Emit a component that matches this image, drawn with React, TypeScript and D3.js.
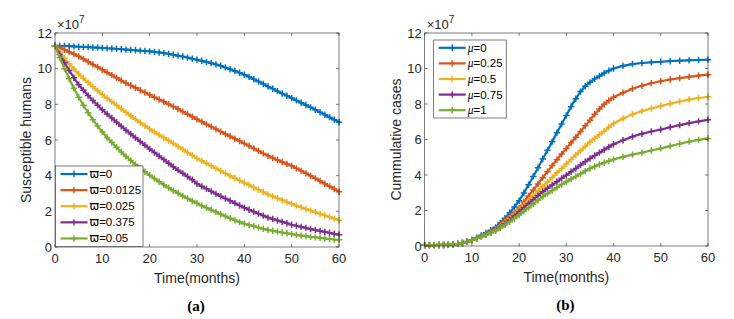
import React from 'react';
import * as d3 from 'd3';

// time grids (months)
const leftMonths = d3.range(0, 61, 1);
const rightMonths = d3.range(0, 41, 1).concat(d3.range(42, 61, 2));

const colors = ['#0072BD', '#D95319', '#EDB120', '#7E2F8E', '#77AC30'];

// (a) susceptible humans, x10^7
const omegaLabels = ['0', '0.0125', '0.025', '0.375', '0.05'];
const susOmega0 = [11.29,11.28,11.27,11.26,11.25,11.23,11.22,11.21,11.19,11.18,11.16,11.14,11.13,11.11,11.09,11.07,11.05,11.03,11.01,10.99,10.97,10.94,10.91,10.87,10.83,10.78,10.73,10.68,10.62,10.56,10.5,10.44,10.38,10.31,10.24,10.16,10.07,9.97,9.87,9.77,9.66,9.54,9.41,9.28,9.14,9.0,8.87,8.74,8.61,8.48,8.35,8.22,8.09,7.96,7.83,7.70,7.56,7.42,7.28,7.14,7.0];
const susOmega1 = [11.29,11.18,11.06,10.94,10.82,10.69,10.54,10.39,10.24,10.09,9.94,9.79,9.64,9.49,9.34,9.19,9.06,8.93,8.79,8.66,8.53,8.40,8.27,8.14,8.01,7.88,7.74,7.59,7.45,7.30,7.16,7.02,6.88,6.75,6.61,6.47,6.34,6.21,6.07,5.94,5.81,5.67,5.53,5.39,5.25,5.11,4.99,4.88,4.77,4.66,4.55,4.41,4.27,4.13,3.99,3.85,3.70,3.55,3.40,3.25,3.10];
const susOmega2 = [11.29,10.93,10.59,10.27,9.98,9.70,9.46,9.22,8.99,8.77,8.55,8.35,8.15,7.95,7.75,7.55,7.36,7.17,6.98,6.80,6.62,6.45,6.29,6.13,5.97,5.81,5.64,5.47,5.30,5.14,4.97,4.83,4.69,4.55,4.41,4.27,4.13,3.99,3.86,3.73,3.60,3.47,3.34,3.21,3.08,2.95,2.84,2.73,2.63,2.52,2.42,2.32,2.23,2.13,2.04,1.95,1.86,1.77,1.68,1.59,1.50];
const susOmega3 = [11.29,10.80,10.34,9.90,9.49,9.10,8.79,8.49,8.21,7.95,7.70,7.46,7.23,7.00,6.77,6.55,6.34,6.13,5.92,5.71,5.50,5.30,5.10,4.90,4.70,4.50,4.31,4.13,3.95,3.77,3.55,3.40,3.26,3.12,2.98,2.85,2.72,2.59,2.46,2.33,2.20,2.09,1.98,1.87,1.76,1.65,1.57,1.49,1.41,1.33,1.25,1.19,1.13,1.07,1.01,0.95,0.90,0.85,0.80,0.74,0.69];
const susOmega4 = [11.29,10.62,10.00,9.43,8.90,8.40,7.95,7.53,7.14,6.78,6.45,6.14,5.86,5.59,5.33,5.08,4.85,4.63,4.42,4.22,4.03,3.84,3.66,3.49,3.32,3.16,3.01,2.86,2.72,2.58,2.45,2.32,2.20,2.08,1.97,1.84,1.72,1.61,1.50,1.40,1.31,1.23,1.16,1.09,1.02,0.96,0.91,0.86,0.81,0.77,0.72,0.68,0.64,0.61,0.57,0.54,0.51,0.48,0.45,0.42,0.40];

// (b) cumulative cases, x10^7
const muLabels = ['0', '0.25', '0.5', '0.75', '1'];
const cumMu0 = [0.05,0.05,0.05,0.06,0.06,0.07,0.09,0.12,0.17,0.25,0.35,0.47,0.60,0.74,0.89,1.05,1.30,1.57,1.87,2.20,2.55,2.99,3.45,3.92,4.41,4.90,5.39,5.88,6.38,6.87,7.35,7.85,8.30,8.70,9.00,9.22,9.42,9.58,9.74,9.88,10.0,10.15,10.25,10.31,10.35,10.38,10.41,10.44,10.46,10.48,10.5];
const cumMu1 = [0.05,0.05,0.05,0.06,0.06,0.07,0.09,0.12,0.17,0.24,0.33,0.44,0.56,0.69,0.82,0.95,1.17,1.42,1.68,1.91,2.15,2.48,2.82,3.16,3.50,3.85,4.19,4.53,4.86,5.18,5.50,5.82,6.13,6.45,6.77,7.09,7.42,7.72,7.98,8.20,8.38,8.64,8.86,9.03,9.17,9.28,9.38,9.46,9.53,9.60,9.65];
const cumMu2 = [0.05,0.05,0.05,0.06,0.06,0.07,0.09,0.12,0.17,0.24,0.33,0.43,0.54,0.66,0.78,0.90,1.10,1.32,1.55,1.80,2.05,2.31,2.57,2.83,3.09,3.35,3.61,3.86,4.12,4.37,4.62,4.87,5.12,5.37,5.62,5.86,6.06,6.27,6.47,6.69,6.90,7.18,7.42,7.60,7.75,7.89,8.02,8.14,8.25,8.34,8.41];
const cumMu3 = [0.05,0.05,0.05,0.06,0.06,0.07,0.09,0.12,0.17,0.24,0.33,0.43,0.54,0.65,0.76,0.88,1.05,1.25,1.47,1.70,1.93,2.16,2.39,2.61,2.84,3.06,3.25,3.44,3.62,3.81,3.99,4.18,4.37,4.56,4.75,4.93,5.10,5.26,5.42,5.58,5.73,5.96,6.16,6.32,6.45,6.56,6.69,6.81,6.92,7.02,7.11];
const cumMu4 = [0.05,0.05,0.05,0.06,0.06,0.07,0.09,0.12,0.17,0.24,0.33,0.43,0.53,0.63,0.74,0.86,1.02,1.19,1.37,1.55,1.74,1.95,2.16,2.37,2.58,2.78,2.95,3.12,3.29,3.46,3.62,3.77,3.92,4.07,4.22,4.37,4.48,4.59,4.69,4.79,4.88,5.02,5.15,5.26,5.38,5.50,5.63,5.76,5.88,5.98,6.06];

const xTicks = [0, 10, 20, 30, 40, 50, 60];
const yTicks = [0, 2, 4, 6, 8, 10, 12];

const AX = '#262626';
const FONT = 'Liberation Sans, Arial, Helvetica, sans-serif';

type Series = { label: string; values: number[] };

function Panel(props: {
  left: number; right: number; top: number; bottom: number;
  times: number[]; series: Series[]; yLabel: string; tag: string;
  symbol: string; italicSymbol: boolean;
  legend: { x: number; y: number; w: number; h: number };
}) {
  const { left, right, top, bottom, times, series, yLabel, tag, symbol, italicSymbol, legend } = props;
  const x = d3.scaleLinear().domain([0, 60]).range([left, right]);
  const y = d3.scaleLinear().domain([0, 12]).range([bottom, top]);
  const line = d3.line<number>().x((_, i) => x(times[i])).y(v => y(v));
  const tl = 3;
  const ms = 3.2;
  const cross = (cx: number, cy: number, c: string, k: string) => (
    <path key={k} d={`M${cx - ms},${cy}H${cx + ms}M${cx},${cy - ms}V${cy + ms}`} stroke={c} strokeWidth={1.5} />
  );
  const rowH = legend.h / series.length;
  return (
    <g>
      <rect x={left} y={top} width={right - left} height={bottom - top} fill="white" />
      {series.map((s, si) => (
        <g key={si}>
          <path d={line(s.values) || ''} fill="none" stroke={colors[si]} strokeWidth={2.2} />
          {s.values.map((v, i) => cross(x(times[i]), y(v), colors[si], 'm' + i))}
        </g>
      ))}
      <rect x={left} y={top} width={right - left} height={bottom - top} fill="none" stroke={AX} strokeWidth={0.6} />
      {xTicks.map(t => (
        <g key={'x' + t}>
          <line x1={x(t)} x2={x(t)} y1={bottom} y2={bottom - tl} stroke={AX} strokeWidth={0.6} />
          <line x1={x(t)} x2={x(t)} y1={top} y2={top + tl} stroke={AX} strokeWidth={0.6} />
          <text x={x(t)} y={bottom + 16} textAnchor="middle" fontSize={13} fill={AX} fontFamily={FONT}>{t}</text>
        </g>
      ))}
      {yTicks.map(t => (
        <g key={'y' + t}>
          <line x1={left} x2={left + tl} y1={y(t)} y2={y(t)} stroke={AX} strokeWidth={0.6} />
          <line x1={right} x2={right - tl} y1={y(t)} y2={y(t)} stroke={AX} strokeWidth={0.6} />
          <text x={left - 3} y={y(t) + 4.5} textAnchor="end" fontSize={13} fill={AX} fontFamily={FONT}>{t}</text>
        </g>
      ))}
      <text x={left + 2} y={top - 4} fontSize={13} fill={AX} fontFamily={FONT}>
        ×10<tspan dy={-6} fontSize={10}>7</tspan>
      </text>
      <text x={(left + right) / 2} y={bottom + 36} textAnchor="middle" fontSize={14} fill={AX} fontFamily={FONT}>Time(months)</text>
      <text transform={`translate(${left - 24},${(top + bottom) / 2}) rotate(-90)`} textAnchor="middle" fontSize={14} fill={AX} fontFamily={FONT}>{yLabel}</text>
      <text x={(left + right) / 2 - 1} y={bottom + 64} textAnchor="middle" fontSize={15} fontWeight="bold" fill="#000" fontFamily="Liberation Serif, Times New Roman, serif">{tag}</text>
      <rect x={legend.x} y={legend.y} width={legend.w} height={legend.h} fill="white" stroke={AX} strokeWidth={0.6} />
      {series.map((s, si) => {
        const cy = legend.y + rowH * (si + 0.5);
        const lx1 = legend.x + 5, lx2 = legend.x + 32;
        return (
          <g key={'l' + si}>
            <line x1={lx1} x2={lx2} y1={cy} y2={cy} stroke={colors[si]} strokeWidth={2.2} />
            {cross((lx1 + lx2) / 2, cy, colors[si], 'lm')}
            <text x={lx2 + 2} y={cy + 4} fontSize={11.5} fill="#000" fontFamily={FONT}>
              <tspan fontStyle={italicSymbol ? 'italic' : 'normal'} fontFamily={italicSymbol ? 'Liberation Serif, serif' : 'DejaVu Sans, sans-serif'}>{symbol}</tspan>={s.label}
            </text>
          </g>
        );
      })}
    </g>
  );
}

export default function App() {
  const leftSeries = [susOmega0, susOmega1, susOmega2, susOmega3, susOmega4].map((v, i) => ({ label: omegaLabels[i], values: v }));
  const rightSeries = [cumMu0, cumMu1, cumMu2, cumMu3, cumMu4].map((v, i) => ({ label: muLabels[i], values: v }));
  return (
    <svg width={734} height={319} style={{ position: 'absolute', left: 0, top: 0, background: 'white' }}>
      <rect width={734} height={319} fill="white" />
      <Panel left={55} right={339} top={33} bottom={247} times={leftMonths} series={leftSeries}
        yLabel="Susceptible humans" tag="(a)" symbol="ϖ" italicSymbol={false}
        legend={{ x: 55.5, y: 166, w: 87.5, h: 80.5 }} />
      <Panel left={424.7} right={708} top={33} bottom={246} times={rightMonths} series={rightSeries}
        yLabel="Cummulative cases" tag="(b)" symbol="μ" italicSymbol={true}
        legend={{ x: 433.7, y: 40, w: 72.5, h: 78 }} />
    </svg>
  );
}
